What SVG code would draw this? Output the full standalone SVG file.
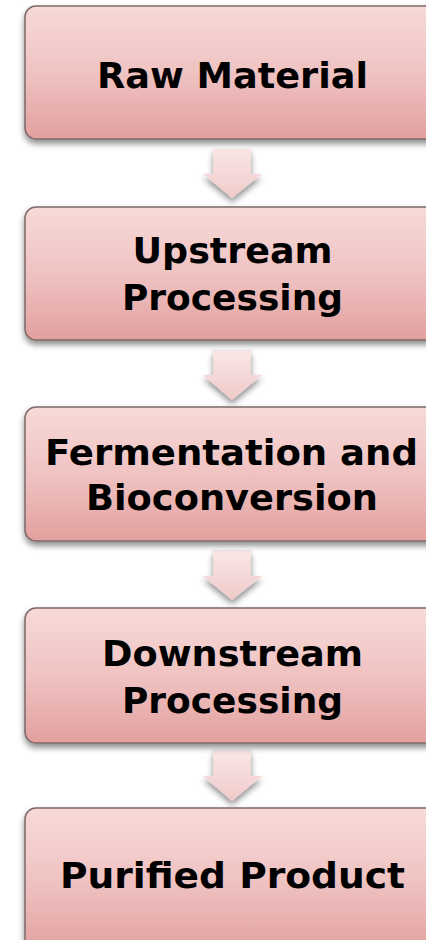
<svg xmlns="http://www.w3.org/2000/svg" width="426" height="940" viewBox="0 0 426 940">
<defs>
<linearGradient id="boxFill" x1="0" y1="0" x2="0" y2="1">
<stop offset="0" stop-color="#f7dad9"/>
<stop offset="0.5" stop-color="#efc3c2"/>
<stop offset="1" stop-color="#e2a09e"/>
</linearGradient>
<linearGradient id="arrFill" x1="0" y1="0" x2="0" y2="1">
<stop offset="0" stop-color="#f9e6e6"/>
<stop offset="1" stop-color="#f1caca"/>
</linearGradient>
<filter id="shadow" x="-10%" y="-10%" width="120%" height="130%">
<feGaussianBlur in="SourceAlpha" stdDeviation="3"/>
<feOffset dx="0" dy="4" result="b"/>
<feComponentTransfer><feFuncA type="linear" slope="0.45"/></feComponentTransfer>
<feMerge><feMergeNode/><feMergeNode in="SourceGraphic"/></feMerge>
</filter>
</defs>
<style>
.box{fill:url(#boxFill);stroke:#7e6868;stroke-width:1.5;filter:url(#shadow)}
.arr{fill:url(#arrFill);stroke:none;filter:url(#shadow)}
.lbl{font-family:"DejaVu Sans",sans-serif;font-weight:bold;font-size:35px;fill:#000;text-anchor:middle}
</style>
<rect width="426" height="940" fill="#ffffff"/>
<g id="connectors">
<path class="arr" d="M213 149H251V174H262L232 198L203 174H213Z"/>
<path class="arr" d="M213 350H251V375H262L232 400L203 375H213Z"/>
<path class="arr" d="M213 550H251V576H262L232 600L203 576H213Z"/>
<path class="arr" d="M213 750H251V776H262L232 801L203 776H213Z"/>
</g>
<g id="node-raw-material">
<rect class="box" x="25" y="6" width="420" height="133" rx="11"/>
<text class="lbl" x="232.5" y="88" textLength="271" lengthAdjust="spacingAndGlyphs">Raw Material</text>
</g>
<g id="node-upstream">
<rect class="box" x="25" y="207" width="420" height="133" rx="11"/>
<text class="lbl" x="232.5" y="263" textLength="200" lengthAdjust="spacingAndGlyphs">Upstream</text>
<text class="lbl" x="232.5" y="310" textLength="221" lengthAdjust="spacingAndGlyphs">Processing</text>
</g>
<g id="node-fermentation">
<rect class="box" x="25" y="407" width="420" height="134" rx="11"/>
<text class="lbl" x="231.5" y="465" textLength="373" lengthAdjust="spacingAndGlyphs">Fermentation and</text>
<text class="lbl" x="232" y="510" textLength="292" lengthAdjust="spacingAndGlyphs">Bioconversion</text>
</g>
<g id="node-downstream">
<rect class="box" x="25" y="608" width="420" height="135" rx="11"/>
<text class="lbl" x="232.5" y="666" textLength="261" lengthAdjust="spacingAndGlyphs">Downstream</text>
<text class="lbl" x="232.5" y="713" textLength="221" lengthAdjust="spacingAndGlyphs">Processing</text>
</g>
<g id="node-purified">
<rect class="box" x="25" y="808" width="420" height="145" rx="11"/>
<text class="lbl" x="232.5" y="888" textLength="345" lengthAdjust="spacingAndGlyphs">Purified Product</text>
</g>
</svg>
